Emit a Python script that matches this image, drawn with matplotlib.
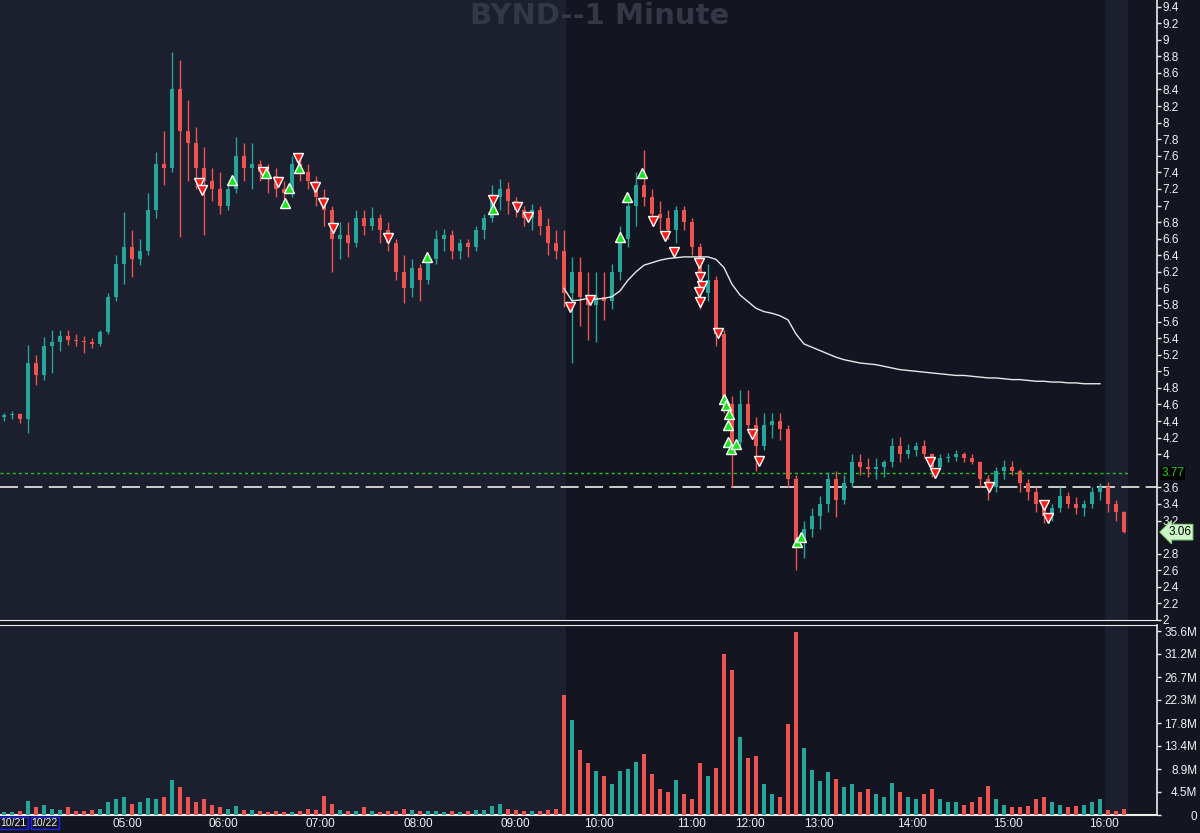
import matplotlib
matplotlib.use("Agg")
import matplotlib.pyplot as plt
import numpy as np

# one bar per slot (roughly 5 minutes of the original 1-minute chart)
opens = [
    4.45, 4.47, 4.48, 4.42, 5.10, 4.95, 5.30, 5.35, 5.42, 5.38,
    5.36, 5.35, 5.33, 5.48, 5.90, 6.30, 6.50, 6.35, 6.45, 6.95,
    7.50, 7.45, 8.40, 7.90, 7.75, 7.45, 7.30, 7.20, 7.00, 7.20,
    7.60, 7.45, 7.50, 7.40, 7.35, 7.20, 7.15, 7.50, 7.40, 7.30,
    7.10, 6.95, 6.60, 6.65, 6.55, 6.85, 6.75, 6.85, 6.70, 6.55,
    6.20, 6.00, 6.25, 6.10, 6.35, 6.60, 6.65, 6.45, 6.55, 6.50,
    6.70, 6.85, 7.10, 7.20, 7.05, 6.95, 6.85, 6.95, 6.75, 6.55,
    6.45, 5.95, 6.20, 5.90, 5.80, 5.90, 5.85, 6.20, 6.60, 7.00,
    7.25, 7.10, 6.90, 6.85, 6.70, 6.95, 6.80, 6.50, 5.95, 6.10,
    5.45, 4.60, 4.15, 4.60, 4.35, 4.10, 4.35, 4.40, 4.30, 3.70,
    2.95, 3.10, 3.25, 3.40, 3.70, 3.45, 3.65, 3.90, 3.85, 3.82,
    3.85, 3.90, 4.10, 4.00, 4.05, 4.10, 4.00, 3.85, 3.95, 3.97,
    4.00, 3.95, 3.90, 3.70, 3.60, 3.80, 3.85, 3.80, 3.65, 3.55,
    3.40, 3.25, 3.35, 3.50, 3.40, 3.35, 3.40, 3.55, 3.60, 3.40, 3.30,
]
highs = [
    4.50, 4.52, 4.50, 5.32, 5.20, 5.41, 5.50, 5.50, 5.50, 5.45,
    5.42, 5.40, 5.50, 5.95, 6.40, 6.92, 6.70, 6.60, 7.15, 7.65,
    7.90, 8.85, 8.75, 8.27, 7.95, 7.70, 7.45, 7.40, 7.25, 7.83,
    7.75, 7.75, 7.55, 7.50, 7.45, 7.30, 7.60, 7.62, 7.50, 7.35,
    7.20, 7.00, 6.80, 6.80, 6.95, 6.95, 6.98, 6.90, 6.80, 6.60,
    6.40, 6.35, 6.30, 6.40, 6.70, 6.72, 6.70, 6.60, 6.60, 6.75,
    6.90, 7.25, 7.32, 7.28, 7.10, 7.00, 7.02, 7.00, 6.85, 6.70,
    6.70, 6.38, 6.38, 6.20, 6.20, 6.20, 6.30, 6.75, 7.15, 7.40,
    7.67, 7.20, 7.05, 6.95, 7.00, 7.00, 6.85, 6.55, 6.30, 6.15,
    5.50, 4.70, 4.77, 4.77, 4.45, 4.50, 4.50, 4.50, 4.35, 3.75,
    3.20, 3.35, 3.50, 3.78, 3.80, 3.75, 4.00, 4.00, 3.95, 3.95,
    3.93, 4.20, 4.21, 4.12, 4.15, 4.17, 4.02, 4.00, 4.02, 4.05,
    4.03, 4.00, 3.92, 3.75, 3.85, 3.93, 3.92, 3.82, 3.70, 3.60,
    3.45, 3.40, 3.60, 3.55, 3.48, 3.45, 3.60, 3.65, 3.66, 3.45, 3.32,
]
lows = [
    4.40, 4.42, 4.38, 4.25, 4.83, 4.90, 4.98, 5.25, 5.32, 5.30,
    5.22, 5.28, 5.30, 5.45, 5.85, 6.05, 6.14, 6.28, 6.40, 6.85,
    7.25, 7.40, 6.62, 7.30, 7.20, 6.64, 7.05, 6.90, 6.95, 7.15,
    7.30, 7.20, 7.30, 7.15, 7.10, 7.03, 7.10, 7.30, 7.20, 7.00,
    6.75, 6.20, 6.35, 6.38, 6.50, 6.65, 6.70, 6.55, 6.45, 6.10,
    5.82, 5.90, 5.85, 6.05, 6.30, 6.45, 6.35, 6.35, 6.38, 6.45,
    6.60, 6.80, 6.95, 6.90, 6.86, 6.75, 6.70, 6.65, 6.40, 6.35,
    5.78, 5.10, 5.55, 5.38, 5.35, 5.62, 5.75, 6.10, 6.50, 6.75,
    7.00, 6.75, 6.70, 6.60, 6.55, 6.70, 6.40, 5.75, 5.85, 5.30,
    4.50, 3.60, 4.10, 4.25, 3.80, 4.05, 4.20, 4.17, 3.60, 2.60,
    2.75, 3.00, 3.10, 3.30, 3.24, 3.40, 3.60, 3.75, 3.72, 3.70,
    3.72, 3.85, 3.90, 3.95, 3.98, 3.95, 3.73, 3.82, 3.90, 3.92,
    3.90, 3.88, 3.60, 3.45, 3.55, 3.70, 3.75, 3.55, 3.45, 3.30,
    3.17, 3.20, 3.30, 3.35, 3.28, 3.25, 3.35, 3.45, 3.30, 3.20, 3.05,
]
closes = [
    4.47, 4.48, 4.43, 5.10, 4.95, 5.30, 5.35, 5.42, 5.38, 5.36,
    5.35, 5.33, 5.48, 5.90, 6.30, 6.50, 6.35, 6.45, 6.95, 7.50,
    7.45, 8.40, 7.90, 7.75, 7.45, 7.30, 7.20, 7.00, 7.20, 7.60,
    7.45, 7.50, 7.40, 7.35, 7.20, 7.15, 7.50, 7.40, 7.30, 7.10,
    6.95, 6.60, 6.65, 6.55, 6.85, 6.75, 6.85, 6.70, 6.55, 6.20,
    6.00, 6.25, 6.10, 6.35, 6.60, 6.65, 6.45, 6.55, 6.50, 6.70,
    6.85, 7.10, 7.20, 7.05, 6.95, 6.85, 6.95, 6.75, 6.55, 6.45,
    5.95, 6.20, 5.90, 5.80, 5.90, 5.85, 6.20, 6.60, 7.00, 7.25,
    7.10, 6.90, 6.85, 6.70, 6.95, 6.80, 6.50, 5.95, 6.10, 5.45,
    4.60, 4.15, 4.60, 4.35, 4.10, 4.35, 4.40, 4.30, 3.70, 2.95,
    3.10, 3.25, 3.40, 3.70, 3.45, 3.65, 3.90, 3.85, 3.82, 3.85,
    3.90, 4.10, 4.00, 4.05, 4.10, 4.00, 3.85, 3.95, 3.97, 4.00,
    3.95, 3.90, 3.70, 3.60, 3.80, 3.85, 3.80, 3.65, 3.55, 3.40,
    3.25, 3.35, 3.50, 3.40, 3.35, 3.40, 3.55, 3.60, 3.40, 3.30, 3.06,
]
volumes_m = [
    0.5, 0.6, 0.8, 2.7, 1.5, 2.0, 1.2, 1.0, 1.5, 0.8,
    0.7, 0.9, 1.2, 2.5, 3.0, 3.5, 2.2, 2.5, 3.2, 3.0,
    3.5, 6.8, 5.5, 3.5, 2.5, 3.0, 2.0, 1.5, 1.2, 1.8,
    1.0, 1.0, 0.8, 0.6, 0.7, 0.5, 0.6, 0.8, 1.2, 1.0,
    3.7, 2.2, 1.0, 0.8, 0.7, 1.5, 0.8, 0.6, 0.7, 0.8,
    1.2, 0.9, 0.8, 0.7, 0.8, 0.6, 0.7, 0.6, 0.8, 0.9,
    1.0, 1.8, 2.2, 1.2, 1.0, 0.8, 0.7, 0.8, 1.0, 1.2,
    23.2, 18.3, 12.6, 10.0, 8.5, 7.5, 6.0, 8.5, 8.9, 10.3,
    11.8, 8.0, 5.0, 4.5, 6.8, 4.0, 3.0, 10.0, 7.5, 9.0,
    31.2, 28.1, 15.0, 11.0, 11.4, 6.0, 4.0, 3.5, 17.6, 35.4,
    13.0, 8.7, 6.5, 8.3, 7.0, 5.5, 6.0, 4.5, 5.0, 4.0,
    3.5, 6.2, 4.5, 3.5, 3.0, 4.0, 5.0, 3.0, 2.5, 2.5,
    2.0, 2.5, 3.5, 5.6, 3.0, 2.0, 1.5, 1.5, 1.8, 3.0,
    3.5, 2.5, 2.0, 1.5, 1.8, 2.0, 2.5, 3.0, 1.0, 0.8, 1.2,
]

# session VWAP, starts at the open (slot 70)
vwap_first_slot = 70
vwap = [
    6.00, 5.85, 5.86, 5.88, 5.87, 5.88, 5.90, 5.97, 6.10, 6.20,
    6.28, 6.31, 6.34, 6.36, 6.37, 6.38, 6.38, 6.38, 6.38, 6.35,
    6.25, 6.05, 5.92, 5.84, 5.76, 5.72, 5.70, 5.67, 5.62, 5.45,
    5.33, 5.29, 5.25, 5.21, 5.17, 5.14, 5.12, 5.10, 5.09, 5.08,
    5.06, 5.04, 5.02, 5.01, 5.00, 4.99, 4.98, 4.97, 4.96, 4.95,
    4.95, 4.94, 4.93, 4.92, 4.92, 4.91, 4.90, 4.90, 4.89, 4.88,
    4.88, 4.87, 4.87, 4.86, 4.86, 4.85, 4.85, 4.85,
]

sell_x = [24.4, 24.75, 32.4, 34.25, 36.75, 38.9, 39.9, 41.1, 48.0, 61.1, 64.1, 65.5,
          70.75, 73.25, 81.1, 82.6, 83.75, 86.9, 87.0, 87.25, 86.9, 87.0, 89.25,
          93.5, 94.4, 115.75, 116.4, 123.1, 130.0, 130.5]
sell_y = [7.27, 7.19, 7.40, 7.28, 7.57, 7.22, 7.03, 6.73, 6.61, 7.07, 6.98, 6.86,
          5.78, 5.86, 6.81, 6.63, 6.44, 6.31, 6.14, 6.03, 5.96, 5.84, 5.46,
          4.24, 3.92, 3.91, 3.77, 3.60, 3.39, 3.23]
buy_x = [28.5, 32.75, 35.1, 35.6, 36.9, 52.9, 61.1, 77.0, 77.9, 79.75,
         90.0, 90.25, 90.6, 90.5, 90.5, 90.9, 91.5, 99.1, 99.6]
buy_y = [7.31, 7.39, 7.03, 7.21, 7.45, 6.38, 6.96, 6.62, 7.10, 7.39,
         4.67, 4.59, 4.48, 4.35, 4.15, 4.06, 4.12, 2.94, 3.00]

level_dotted = 3.77
level_dashed = 3.60
last_price = 3.06

hour_ticks = [15.4, 27.4, 39.6, 51.75, 63.9, 74.4, 85.9, 93.25, 101.9, 113.5, 125.5, 137.5]
hour_labels = ["05:00", "06:00", "07:00", "08:00", "09:00", "10:00",
               "11:00", "12:00", "13:00", "14:00", "15:00", "16:00"]
date_ticks = [1.2, 5.1]
date_labels = ["10/21", "10/22"]

price_ticks = [2.0, 2.2, 2.4, 2.6, 2.8, 3.2, 3.4, 3.6, 4.0, 4.2, 4.4, 4.6, 4.8, 5.0,
               5.2, 5.4, 5.6, 5.8, 6.0, 6.2, 6.4, 6.6, 6.8, 7.0, 7.2, 7.4, 7.6, 7.8,
               8.0, 8.2, 8.4, 8.6, 8.8, 9.0, 9.2, 9.4]
vol_ticks = [0, 4.45, 8.9, 13.35, 17.8, 22.25, 26.7, 31.15, 35.6]
vol_labels = ["0", "4.5M", "8.9M", "13.4M", "17.8M", "22.3M", "26.7M", "31.2M", "35.6M"]

UP = "#26a69a"
DOWN = "#ef5350"
BG_EXT = "#1b1f2e"
BG_REG = "#131621"
AXIS_C = "#ececec"
TXT_C = "#f2f2f2"

regular_open_slot = 70.25
after_hours_slot = 137.6
last_slot = 140.5


def main() -> None:
    plt.rcParams["font.family"] = ["Liberation Sans", "DejaVu Sans"]
    fig = plt.figure(figsize=(12, 8.33), dpi=100, facecolor=BG_REG)

    ax = fig.add_axes([0.0, 1 - 620 / 833, 1157 / 1200, 620 / 833])
    axv = fig.add_axes([0.0, 1 - 815 / 833, 1157 / 1200, 190 / 833], sharex=ax)

    x = np.arange(len(closes))
    o = np.array(opens)
    c = np.array(closes)
    h = np.array(highs)
    lo = np.array(lows)
    up = c >= o
    colors = np.where(up, UP, DOWN)

    for a in (ax, axv):
        a.set_facecolor(BG_REG)
        a.axvspan(-0.5, regular_open_slot, color=BG_EXT, lw=0, zorder=0)
        a.axvspan(after_hours_slot, last_slot, color=BG_EXT, lw=0, zorder=0)
        for s in ("left", "top", "bottom", "right"):
            a.spines[s].set_visible(False)
        a.spines["right"].set_visible(True)
        a.spines["right"].set_color(AXIS_C)
        a.spines["right"].set_linewidth(1.2)

    # candles
    ax.vlines(x, lo, h, colors=colors, lw=1.0, zorder=3)
    body_lo = np.minimum(o, c)
    body_h = np.maximum(np.abs(c - o), 0.02)
    ax.bar(x, body_h, bottom=body_lo, width=0.5, color=colors, lw=0, zorder=3)

    # vwap
    vx = np.arange(vwap_first_slot, vwap_first_slot + len(vwap))
    ax.plot(vx, vwap, color="#e8e8e8", lw=1.0, zorder=4)

    # levels
    ax.axhline(level_dotted, xmin=0, xmax=(last_slot + 0.5) / 144.625, color="#1fc41f",
               lw=1.0, dashes=(2.2, 2.2), zorder=2)
    ax.axhline(level_dashed, color="#dcdcdc", lw=1.3, dashes=(10, 3.5), zorder=2)

    # signals
    ax.plot(sell_x, sell_y, ls="none", marker="v", ms=7.5, mfc="#ff1a1a", mec="white",
            mew=1.0, zorder=5)
    ax.plot(buy_x, buy_y, ls="none", marker="^", ms=7.5, mfc="#19e619", mec="white",
            mew=1.0, zorder=5)

    ax.set_xlim(-0.5, 144.125)
    ax.set_ylim(2.0, 2.0 + 620 / 82.9)
    ax.yaxis.tick_right()
    ax.set_yticks(price_ticks)
    ax.yaxis.set_major_formatter(matplotlib.ticker.FormatStrFormatter("%g"))
    ax.tick_params(axis="y", colors=AXIS_C, labelcolor=TXT_C, labelsize=8.5, length=3,
                   width=1, pad=1, direction="out")
    ax.tick_params(axis="x", bottom=False, labelbottom=False)
    ax.spines["bottom"].set_visible(True)
    ax.spines["bottom"].set_color(AXIS_C)

    # price labels on axis
    ax.annotate("3.77", xy=(1.0, level_dotted), xycoords=("axes fraction", "data"),
                xytext=(3, 0), textcoords="offset points", va="center", ha="left",
                fontsize=8.5, color="#22d022",
                bbox=dict(boxstyle="square,pad=0.1", fc="black", ec="none"), zorder=6,
                annotation_clip=False)
    ax.annotate("3.06", xy=(1.0, last_price), xycoords=("axes fraction", "data"),
                xytext=(8, 0), textcoords="offset points", va="center", ha="left",
                fontsize=8.5, color="black",
                bbox=dict(boxstyle="larrow,pad=0.15", fc="#cdf5c8", ec="#8fcf8a", lw=0.8),
                zorder=6, annotation_clip=False)

    # volume
    axv.bar(x, volumes_m, width=0.6, color=colors, lw=0, zorder=3)
    axv.set_ylim(0, 190 * 4.45 / 23)
    axv.yaxis.tick_right()
    axv.set_yticks(vol_ticks)
    axv.set_yticklabels(vol_labels)
    axv.tick_params(axis="y", colors=AXIS_C, labelcolor=TXT_C, labelsize=8.5, length=3,
                    width=1, pad=26)
    for lab in axv.get_yticklabels():
        lab.set_horizontalalignment("right")
    axv.spines["top"].set_visible(True)
    axv.spines["top"].set_color(AXIS_C)
    axv.spines["bottom"].set_visible(True)
    axv.spines["bottom"].set_color(AXIS_C)
    axv.spines["bottom"].set_linewidth(1.5)

    axv.set_xticks(hour_ticks + date_ticks)
    axv.set_xticklabels(hour_labels + date_labels)
    axv.tick_params(axis="x", length=0, labelsize=8.5, labelcolor=TXT_C, pad=2)
    for lab in axv.get_xticklabels():
        if lab.get_text() in date_labels:
            lab.set_fontsize(7.5)
            lab.set_bbox(dict(boxstyle="square,pad=0.1", fc="none", ec="#2020ff", lw=1))

    fig.text(0.5, 0.981, "BYND--1 Minute", ha="center", va="center", fontsize=21,
             fontweight="bold", family="DejaVu Sans", color="#343845", zorder=0)

    fig.savefig("out.png", dpi=100, facecolor=BG_REG)
    plt.close(fig)


if __name__ == "__main__":
    main()
